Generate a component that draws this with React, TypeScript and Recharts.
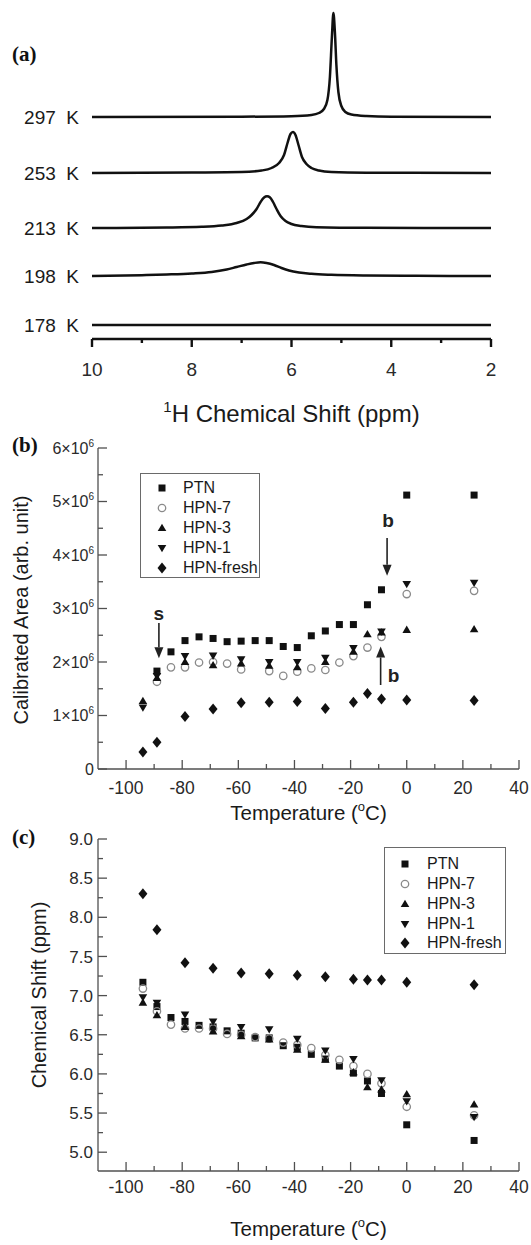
import React from "react";
import {
  LineChart,
  Line,
  ScatterChart,
  Scatter,
  XAxis,
  YAxis,
  ReferenceLine,
  Legend,
  Label,
} from "recharts";

const SANS = '"Liberation Sans", Arial, Helvetica, sans-serif';
const SERIF = '"Liberation Serif", "Times New Roman", serif';
const INK = "#111";
const FRAME = "#505050";
const TICK_TEXT = "#2a2a2a";

// ---------- (a) 1H spectra, intensity in arbitrary units ----------
const SPEC_NAMES = ["297\u00a0\u00a0K", "253\u00a0\u00a0K", "213\u00a0\u00a0K", "198\u00a0\u00a0K", "178\u00a0\u00a0K"];
const SPEC_OFFSETS = [208, 152, 97, 49, 0];

const PPM_297 = [10, 7, 6, 5.6, 5.45, 5.35, 5.28, 5.23, 5.19, 5.16, 5.13, 5.1, 5.06, 5.0, 4.92, 4.8, 4.5, 4, 2];
const INT_297 = [0, 0.3, 0.8, 2, 4, 8, 17, 40, 80, 104, 85, 52, 25, 11, 5, 2.5, 1, 0.3, 0];

const PPM_253 = [10, 8, 7, 6.6, 6.4, 6.25, 6.15, 6.08, 6.02, 5.97, 5.92, 5.86, 5.79, 5.7, 5.6, 5.45, 5.2, 4.5, 2];
const INT_253 = [0, 0.5, 1, 2.5, 5, 10, 18, 30, 39, 41, 38, 28, 16, 9, 5, 2.5, 1, 0.3, 0];

const PPM_213 = [10, 8.5, 7.8, 7.4, 7.1, 6.9, 6.8, 6.7, 6.62, 6.55, 6.49, 6.43, 6.37, 6.3, 6.22, 6.12, 6.0, 5.8, 5.5, 4.5, 2];
const INT_213 = [0, 0.5, 1.2, 2.5, 5, 9, 13, 19, 26, 30.5, 31.7, 30.5, 26, 19, 12, 7, 4, 2, 0.8, 0.2, 0];

const PPM_198 = [10, 9, 8.5, 8, 7.6, 7.3, 7.1, 6.9, 6.75, 6.62, 6.5, 6.35, 6.2, 6.05, 5.85, 5.6, 5.2, 4.5, 3.5, 2];
const INT_198 = [0, 0.8, 1.5, 2.5, 4, 6.5, 9, 11.5, 13, 13.7, 13, 11, 8, 5.5, 3.5, 2.2, 1.2, 0.5, 0.2, 0];

const PPM_178 = [10, 6, 2];
const INT_178 = [0, 0, 0];

const SPEC_PPM = [PPM_297, PPM_253, PPM_213, PPM_198, PPM_178];
const SPEC_INT = [INT_297, INT_253, INT_213, INT_198, INT_178];

const PPM_TICKS = [10, 9, 8, 7, 6, 5, 4, 3, 2];
const PPM_LABELED = [10, 8, 6, 4, 2];

// ---------- (b) and (c) vs temperature ----------
const TEMPS = [-94, -89, -84, -79, -74, -69, -64, -59, -54, -49, -44, -39, -34, -29, -24, -19, -14, -9, 0, 24];
const SERIES = ["PTN", "HPN-7", "HPN-3", "HPN-1", "HPN-fresh"];
const MARKERS = ["square", "circle", "up", "down", "diamond"];

// calibrated area, x10^6
const AREA_PTN = [null, 1.83, 2.19, 2.4, 2.47, 2.44, 2.38, 2.39, 2.4, 2.4, 2.29, 2.27, 2.49, 2.58, 2.7, 2.7, 3.07, 3.35, 5.12, 5.12];
const AREA_HPN7 = [null, 1.63, 1.9, 1.9, 1.99, 2.0, 1.97, 1.86, null, 1.83, 1.74, 1.82, 1.88, 1.85, 1.99, 2.11, 2.27, 2.47, 3.27, 3.33];
const AREA_HPN3 = [1.27, 1.7, null, 2.0, null, 1.94, null, 1.97, null, 1.93, null, 1.9, null, 2.0, null, 2.19, 2.52, 2.55, 2.6, 2.61];
const AREA_HPN1 = [1.15, 1.74, null, 2.11, null, 2.12, null, 2.05, null, 2.0, null, 2.0, null, 2.08, null, 2.26, null, 2.57, 3.46, 3.48];
const AREA_FRESH = [0.32, 0.5, null, 0.98, null, 1.12, null, 1.24, null, 1.25, null, 1.26, null, 1.13, null, 1.25, 1.41, 1.31, 1.29, 1.28];
const AREA = [AREA_PTN, AREA_HPN7, AREA_HPN3, AREA_HPN1, AREA_FRESH];

// chemical shift, ppm
const SHIFT_PTN = [7.17, 6.86, 6.72, 6.67, 6.62, 6.6, 6.55, 6.52, 6.46, 6.46, 6.36, 6.34, 6.25, 6.19, 6.1, 6.01, 5.91, 5.75, 5.35, 5.15];
const SHIFT_HPN7 = [7.09, 6.8, 6.63, 6.58, 6.58, 6.58, 6.51, 6.5, 6.47, 6.45, 6.4, 6.37, 6.33, 6.24, 6.18, 6.1, 6.0, 5.88, 5.58, 5.47];
const SHIFT_HPN3 = [6.91, 6.75, null, 6.6, null, 6.54, null, 6.48, null, 6.44, null, 6.31, null, 6.18, null, 6.02, 5.83, 5.8, 5.74, 5.61];
const SHIFT_HPN1 = [6.98, 6.91, null, 6.76, null, 6.67, null, 6.6, null, 6.57, null, 6.45, null, 6.3, null, 6.19, null, 5.92, 5.65, 5.45];
const SHIFT_FRESH = [8.3, 7.84, null, 7.42, null, 7.35, null, 7.29, null, 7.28, null, 7.26, null, 7.24, null, 7.21, 7.2, 7.2, 7.17, 7.14];
const SHIFT = [SHIFT_PTN, SHIFT_HPN7, SHIFT_HPN3, SHIFT_HPN1, SHIFT_FRESH];

const T_TICKS = [-100, -90, -80, -70, -60, -50, -40, -30, -20, -10, 0, 10, 20, 30, 40];
const T_LABELED = [-100, -80, -60, -40, -20, 0, 20, 40];
const AREA_TICKS = [0, 0.5, 1, 1.5, 2, 2.5, 3, 3.5, 4, 4.5, 5, 5.5, 6];
const AREA_LABELED = [0, 1, 2, 3, 4, 5, 6];
const SHIFT_TICKS = [5, 5.25, 5.5, 5.75, 6, 6.25, 6.5, 6.75, 7, 7.25, 7.5, 7.75, 8, 8.25, 8.5, 8.75, 9];
const SHIFT_LABELED = [5, 5.5, 6, 6.5, 7, 7.5, 8, 8.5, 9];

// arrows in panel (b): temperature, start, end (x10^6)
const ARROW_T = [-88.3, -7, -9.3];
const ARROW_FROM = [2.73, 4.32, 1.57];
const ARROW_TO = [2.07, 3.61, 2.29];
const ARROW_TEXT = ["s", "b", "b"];

function pointsOf(values: (number | null)[]) {
  return TEMPS.map((t, i) => ({ t, v: values[i] })).filter((d) => d.v != null);
}

function Marker({ kind, cx, cy }: { kind: string; cx: number; cy: number }) {
  if (cx == null || cy == null) return null;
  switch (kind) {
    case "square":
      return <rect x={cx - 3.5} y={cy - 3.5} width={7} height={7} fill={INK} />;
    case "circle":
      return <circle cx={cx} cy={cy} r={3.7} fill="none" stroke="#8a8a8a" strokeWidth={1.3} />;
    case "up":
      return <polygon points={`${cx},${cy - 4.3} ${cx + 4.3},${cy + 3} ${cx - 4.3},${cy + 3}`} fill={INK} />;
    case "down":
      return <polygon points={`${cx},${cy + 4.3} ${cx + 4.3},${cy - 3} ${cx - 4.3},${cy - 3}`} fill={INK} />;
    default:
      return <polygon points={`${cx},${cy - 5.5} ${cx + 4.5},${cy} ${cx},${cy + 5.5} ${cx - 4.5},${cy}`} fill={INK} />;
  }
}

type Side = "bottom" | "top" | "left" | "right";
interface TickOpts {
  major: number;
  minor: number;
  out?: boolean;
  gap?: number;
  size?: number;
  fmt?: (v: number) => React.ReactNode;
  stroke: string;
  width: number;
}

function tickFactory(side: Side, labeled: number[], o: TickOpts) {
  return (props: any) => {
    const { x, y, payload } = props;
    const v = payload?.value;
    const isMajor = labeled.some((m) => Math.abs(m - v) < 1e-9);
    const len = isMajor ? o.major : o.minor;
    const s = o.out ? 1 : -1;
    let x2 = x;
    let y2 = y;
    if (side === "bottom") y2 = y + s * len;
    if (side === "top") y2 = y - s * len;
    if (side === "left") x2 = x - s * len;
    if (side === "right") x2 = x + s * len;
    let text: React.ReactNode = null;
    if (isMajor && o.fmt) {
      const common = { fontFamily: SANS, fontSize: o.size, fill: TICK_TEXT };
      if (side === "bottom")
        text = (
          <text x={x} y={y + (o.gap ?? 0)} dy="0.36em" textAnchor="middle" {...common}>
            {o.fmt(v)}
          </text>
        );
      if (side === "left")
        text = (
          <text x={x - (o.gap ?? 0)} y={y} dy="0.36em" textAnchor="end" {...common}>
            {o.fmt(v)}
          </text>
        );
    }
    return (
      <g>
        <line x1={x} y1={y} x2={x2} y2={y2} stroke={o.stroke} strokeWidth={o.width} />
        {text}
      </g>
    );
  };
}

function arrowShape(text: string, tdx: number, tdy: number) {
  return (p: any) => {
    const { x1, y1, x2, y2 } = p;
    const dir = y2 > y1 ? 1 : -1;
    const head = 11;
    const hw = 4.5;
    const baseY = y2 - dir * head;
    return (
      <g>
        <line x1={x1} y1={y1} x2={x2} y2={baseY} stroke="#222" strokeWidth={1.6} />
        <polygon points={`${x2},${y2} ${x2 - hw},${baseY} ${x2 + hw},${baseY}`} fill="#222" />
        <text
          x={x1 + tdx}
          y={y1 + tdy}
          dy="0.36em"
          textAnchor="middle"
          fontFamily={SANS}
          fontWeight="bold"
          fontSize={19}
          fill="#222"
        >
          {text}
        </text>
      </g>
    );
  };
}
const ARROW_TEXT_OFFSET: [number, number][] = [
  [0, -10],
  [1, -18],
  [13, -10],
];

function LegendBox({ w, h, rows, symX, textX }: { w: number; h: number; rows: number[]; symX: number; textX: number }) {
  return (
    <div
      style={{
        width: w,
        height: h,
        boxSizing: "border-box",
        border: "1.5px solid #6a6a6a",
        background: "#fff",
        position: "relative",
        fontFamily: SANS,
        fontSize: 16,
        color: "#1a1a1a",
      }}
    >
      {SERIES.map((name, i) => (
        <div key={name} style={{ position: "absolute", left: 0, top: rows[i] - 10, height: 20, width: w }}>
          <svg width={30} height={20} style={{ position: "absolute", left: symX - 15, top: 0 }}>
            <Marker kind={MARKERS[i]} cx={15} cy={10} />
          </svg>
          <span style={{ position: "absolute", left: textX, top: 0, lineHeight: "20px", whiteSpace: "nowrap" }}>{name}</span>
        </div>
      ))}
    </div>
  );
}

function SpectraPanel() {
  const axisTick = tickFactory("bottom", PPM_LABELED, {
    major: 8,
    minor: 4,
    out: true,
    gap: 30.5,
    size: 19,
    fmt: (v) => String(v),
    stroke: INK,
    width: 2.4,
  });
  return (
    <LineChart width={531} height={430} margin={{ top: 13, right: 40, bottom: 21, left: 92 }}>
      <XAxis
        type="number"
        dataKey="ppm"
        domain={[2, 10]}
        reversed
        ticks={PPM_TICKS}
        interval={0}
        tickSize={0}
        tickMargin={0}
        tickLine={false}
        tick={axisTick}
        axisLine={{ stroke: INK, strokeWidth: 2.4 }}
        height={70}
      >
        <Label
          content={(p: any) => {
            const vb = p.viewBox;
            const cx = vb.x + vb.width / 2;
            return (
              <text x={cx} y={vb.y + 83} textAnchor="middle" fontFamily={SANS} fontSize={24} fill="#1a1a1a">
                <tspan fontSize={15} dy={-10}>1</tspan>
                <tspan dy={10}>H Chemical Shift (ppm)</tspan>
              </text>
            );
          }}
        />
      </XAxis>
      <YAxis type="number" hide domain={[-14, 312]} />
      {SPEC_PPM.map((ppms, i) => (
        <Line
          key={SPEC_NAMES[i]}
          data={ppms.map((ppm, j) => ({ ppm, y: SPEC_INT[i][j] + SPEC_OFFSETS[i] }))}
          dataKey="y"
          type="monotone"
          stroke={INK}
          strokeWidth={2.5}
          dot={false}
          activeDot={false}
          isAnimationActive={false}
          label={(p: any) => {
            if (p.index !== 0) return null;
            const x = p.x ?? p.viewBox?.x;
            const y = p.y ?? p.viewBox?.y;
            return (
              <text
                key={`lab-${i}`}
                x={x - 13}
                y={y}
                dy="0.36em"
                textAnchor="end"
                fontFamily={SANS}
                fontSize={19}
                fill="#1a1a1a"
              >
                {SPEC_NAMES[i]}
              </text>
            );
          }}
        />
      ))}
    </LineChart>
  );
}

function tempLabel(dyBase: number) {
  return (p: any) => {
    const vb = p.viewBox;
    return (
      <text x={vb.x + vb.width / 2} y={vb.y + dyBase} textAnchor="middle" fontFamily={SANS} fontSize={20.5} fill="#1a1a1a">
        Temperature (<tspan fontSize={13} dy={-9}>o</tspan>
        <tspan dy={9}>C)</tspan>
      </text>
    );
  };
}

function yTitle(text: string, dx: number, dy: number) {
  return (p: any) => {
    const vb = p.viewBox;
    const cx = vb.x + dx;
    const cy = vb.y + vb.height / 2 + dy;
    return (
      <text
        x={cx}
        y={cy}
        dy="0.36em"
        transform={`rotate(-90, ${cx}, ${cy})`}
        textAnchor="middle"
        fontFamily={SANS}
        fontSize={20}
        fill="#1a1a1a"
      >
        {text}
      </text>
    );
  };
}

const frameOpts = { stroke: FRAME, width: 1.3 };

function AreaPanel() {
  const bottom = tickFactory("bottom", T_LABELED, { major: 9, minor: 5, gap: 18.5, size: 17.5, fmt: (v) => String(v), ...frameOpts });
  const top = tickFactory("top", T_LABELED, { major: 9, minor: 5, ...frameOpts });
  const left = tickFactory("left", AREA_LABELED, {
    major: 9,
    minor: 5,
    gap: 4,
    size: 16,
    fmt: (v) =>
      v === 0 ? (
        "0"
      ) : (
        <>
          {v}×10<tspan fontSize={10} dy={-7}>6</tspan>
        </>
      ),
    ...frameOpts,
  });
  const right = tickFactory("right", AREA_LABELED, { major: 9, minor: 5, ...frameOpts });
  return (
    <ScatterChart width={531} height={400} margin={{ top: 18, right: 12, bottom: 11, left: 38 }}>
      <XAxis
        xAxisId={0}
        type="number"
        dataKey="t"
        domain={[-110, 40]}
        ticks={T_TICKS}
        interval={0}
        tickSize={0}
        tickMargin={0}
        tickLine={false}
        tick={bottom}
        axisLine={{ stroke: FRAME, strokeWidth: 1.3 }}
        height={50}
      >
        <Label content={tempLabel(51)} />
      </XAxis>
      <XAxis
        xAxisId="top"
        orientation="top"
        type="number"
        dataKey="t"
        domain={[-110, 40]}
        ticks={T_TICKS}
        interval={0}
        tickSize={0}
        tickMargin={0}
        tickLine={false}
        tick={top}
        axisLine={{ stroke: FRAME, strokeWidth: 1.3 }}
        height={0}
      />
      <YAxis
        yAxisId={0}
        type="number"
        dataKey="v"
        domain={[0, 6]}
        ticks={AREA_TICKS}
        interval={0}
        tickSize={0}
        tickMargin={0}
        tickLine={false}
        tick={left}
        axisLine={{ stroke: FRAME, strokeWidth: 1.3 }}
        width={60}
      >
        <Label content={yTitle("Calibrated Area (arb. unit)", -17, 1.5)} />
      </YAxis>
      <YAxis
        yAxisId="right"
        orientation="right"
        type="number"
        dataKey="v"
        domain={[0, 6]}
        ticks={AREA_TICKS}
        interval={0}
        tickSize={0}
        tickMargin={0}
        tickLine={false}
        tick={right}
        axisLine={{ stroke: FRAME, strokeWidth: 1.3 }}
        width={0}
      />
      {SERIES.map((name, i) => (
        <Scatter
          key={name}
          name={name}
          data={pointsOf(AREA[i])}
          isAnimationActive={false}
          shape={(p: any) => <Marker kind={MARKERS[i]} cx={p.cx} cy={p.cy} />}
        />
      ))}
      {ARROW_T.map((t, i) => (
        <ReferenceLine
          key={`arrow-${i}`}
          segment={[
            { x: t, y: ARROW_FROM[i] },
            { x: t, y: ARROW_TO[i] },
          ]}
          shape={arrowShape(ARROW_TEXT[i], ARROW_TEXT_OFFSET[i][0], ARROW_TEXT_OFFSET[i][1])}
        />
      ))}
      <Legend
        layout="vertical"
        align="center"
        verticalAlign="middle"
        wrapperStyle={{ left: 140, top: 43, width: 120, height: 105 }}
        content={() => <LegendBox w={120} h={105} rows={[14.3, 34.3, 54.3, 74.3, 93.7]} symX={21} textX={42} />}
      />
    </ScatterChart>
  );
}

function ShiftPanel() {
  const bottom = tickFactory("bottom", T_LABELED, { major: 9, minor: 5, gap: 16, size: 17.5, fmt: (v) => String(v), ...frameOpts });
  const top = tickFactory("top", T_LABELED, { major: 9, minor: 5, ...frameOpts });
  const left = tickFactory("left", SHIFT_LABELED, { major: 9, minor: 5, gap: 5, size: 17, fmt: (v) => v.toFixed(1), ...frameOpts });
  const right = tickFactory("right", SHIFT_LABELED, { major: 9, minor: 5, ...frameOpts });
  return (
    <ScatterChart width={531} height={415} margin={{ top: 9, right: 12, bottom: 14, left: 38 }}>
      <XAxis
        xAxisId={0}
        type="number"
        dataKey="t"
        domain={[-110, 40]}
        ticks={T_TICKS}
        interval={0}
        tickSize={0}
        tickMargin={0}
        tickLine={false}
        tick={bottom}
        axisLine={{ stroke: FRAME, strokeWidth: 1.3 }}
        height={60}
      >
        <Label content={tempLabel(65)} />
      </XAxis>
      <XAxis
        xAxisId="top"
        orientation="top"
        type="number"
        dataKey="t"
        domain={[-110, 40]}
        ticks={T_TICKS}
        interval={0}
        tickSize={0}
        tickMargin={0}
        tickLine={false}
        tick={top}
        axisLine={{ stroke: FRAME, strokeWidth: 1.3 }}
        height={0}
      />
      <YAxis
        yAxisId={0}
        type="number"
        dataKey="v"
        domain={[4.76, 9]}
        ticks={SHIFT_TICKS}
        interval={0}
        tickSize={0}
        tickMargin={0}
        tickLine={false}
        tick={left}
        axisLine={{ stroke: FRAME, strokeWidth: 1.3 }}
        width={60}
      >
        <Label content={yTitle("Chemical Shift (ppm)", 1, -10)} />
      </YAxis>
      <YAxis
        yAxisId="right"
        orientation="right"
        type="number"
        dataKey="v"
        domain={[4.76, 9]}
        ticks={SHIFT_TICKS}
        interval={0}
        tickSize={0}
        tickMargin={0}
        tickLine={false}
        tick={right}
        axisLine={{ stroke: FRAME, strokeWidth: 1.3 }}
        width={0}
      />
      {SERIES.map((name, i) => (
        <Scatter
          key={name}
          name={name}
          data={pointsOf(SHIFT[i])}
          isAnimationActive={false}
          shape={(p: any) => <Marker kind={MARKERS[i]} cx={p.cx} cy={p.cy} />}
        />
      ))}
      <Legend
        layout="vertical"
        align="center"
        verticalAlign="middle"
        wrapperStyle={{ left: 384, top: 17, width: 122, height: 107 }}
        content={() => <LegendBox w={122} h={107} rows={[16.3, 36.3, 55.7, 75.7, 94.7]} symX={20} textX={42} />}
      />
    </ScatterChart>
  );
}

export default function App() {
  return (
    <div style={{ position: "absolute", left: 0, top: 0, width: 531, height: 1245, background: "#fff", overflow: "hidden" }}>
      <div style={{ position: "absolute", left: 0, top: 0 }}>
        <SpectraPanel />
      </div>
      <div style={{ position: "absolute", left: 0, top: 430 }}>
        <AreaPanel />
      </div>
      <div style={{ position: "absolute", left: 0, top: 830 }}>
        <ShiftPanel />
      </div>
      <svg width={531} height={1245} style={{ position: "absolute", left: 0, top: 0, pointerEvents: "none" }}>
        <g fontFamily={SERIF} fontWeight="bold" fontSize={21} fill="#111">
          <text x={12} y={61}>(a)</text>
          <text x={12} y={452}>(b)</text>
          <text x={12} y={844}>(c)</text>
        </g>
      </svg>
    </div>
  );
}
